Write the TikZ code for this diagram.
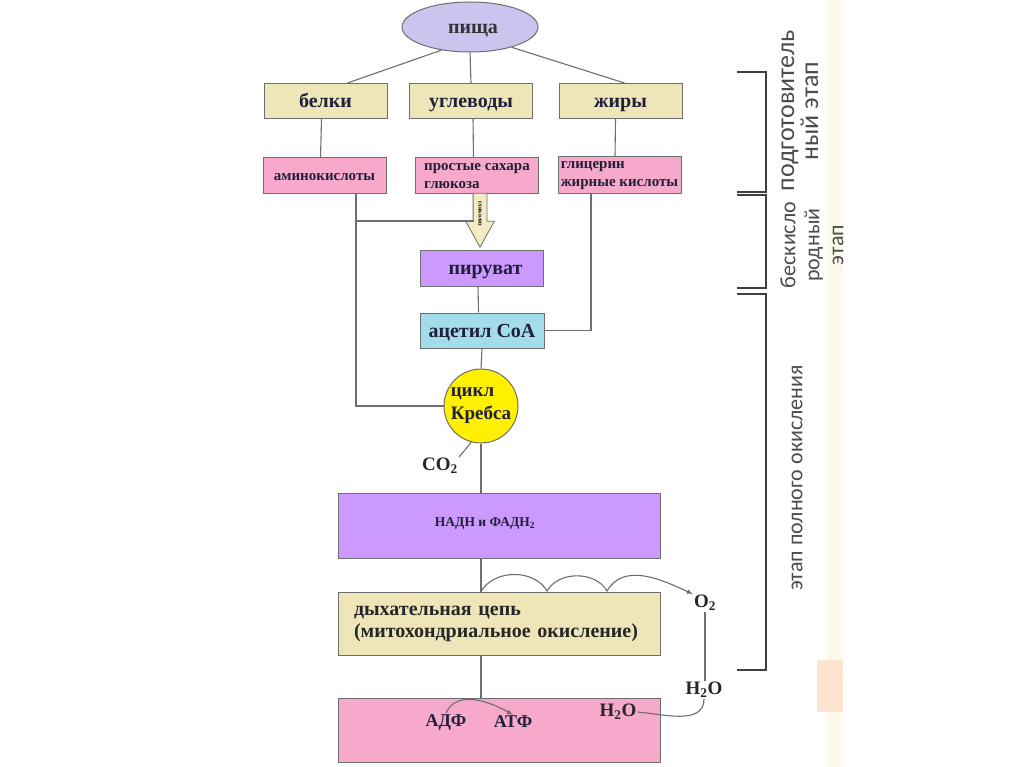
\documentclass[tikz,border=0pt]{standalone}
\usepackage{fontspec}
\setmainfont{Liberation Serif}
\newfontfamily\stagefont{Carlito}
\usetikzlibrary{arrows,shapes.geometric,shapes.arrows}

\definecolor{foodfill}{HTML}{CAC4EE}
\definecolor{sandfill}{HTML}{EEE6B8}
\definecolor{pinkfill}{HTML}{F6A9CB}
\definecolor{violetfill}{HTML}{CC99FF}
\definecolor{bluefill}{HTML}{A3DCEA}
\definecolor{krebsfill}{HTML}{FFF000}
\definecolor{arrowfill}{HTML}{F1ECC3}
\definecolor{edgegray}{HTML}{6E6E6E}
\definecolor{inkblue}{HTML}{20203A}
\definecolor{cream}{HTML}{FDFAEC}
\definecolor{peach}{HTML}{FBE3CF}

\begin{document}
\begin{tikzpicture}[x=1pt,y=-1pt,
	box/.style={rectangle, draw=edgegray, line width=1pt, inner sep=0pt, text=inkblue, font=\bfseries\fontsize{20}{22}\selectfont},
	small/.style={box, font=\bfseries\fontsize{15}{18}\selectfont},
	mid/.style={text height=15pt, text depth=2pt},
	smallmid/.style={text height=10.5pt, text depth=1.5pt},
	chem/.style={inner sep=1pt, text=black!85, font=\bfseries\fontsize{19}{21}\selectfont},
	link/.style={draw=edgegray, line width=1.1pt},
	bracket/.style={draw=black!75, line width=1.2pt},
	stage/.style={rotate=90, align=center, inner sep=0pt, text=black!70, font=\stagefont\fontsize{22}{24}\selectfont}]
	\useasboundingbox (0,0) rectangle (1024,767);
	\fill [white] (0,0) rectangle (1024,767);
	\fill [cream] (826,0) rectangle (843,767);
	\fill [peach] (817,660) rectangle (843,712);

	% food and its parts
	\node (0) [ellipse, mid, draw=edgegray, line width=1pt, fill=foodfill, minimum width=136pt, minimum height=50pt, inner sep=0pt, text=black!80, font=\bfseries\fontsize{20}{22}\selectfont] at (470,27) {\hspace{6pt}пища};
	\node (1) [box, mid, fill=sandfill, minimum width=123pt, minimum height=35pt] at (325.5,101) {белки};
	\node (2) [box, mid, fill=sandfill, minimum width=123pt, minimum height=35pt] at (471,101) {углеводы};
	\node (3) [box, mid, fill=sandfill, minimum width=123pt, minimum height=35pt] at (620.5,101) {жиры};
	\node (4) [small, smallmid, fill=pinkfill, minimum width=123pt, minimum height=36pt] at (324.5,176) {аминокислоты};
	\node (5) [small, fill=pinkfill, align=left, minimum width=123pt, minimum height=36pt] at (477,176) {простые сахара\\глюкоза};
	\node (6) [small, fill=pinkfill, align=left, minimum width=123pt, minimum height=37pt] at (619.5,175.5) {глицерин\\жирные кислоты};
	\node (7) [single arrow, draw=edgegray, line width=0.8pt, fill=arrowfill, rotate=-90, anchor=tip, minimum height=54pt, single arrow head extend=7.5pt, single arrow tip angle=58, text height=3pt, text depth=0pt, inner xsep=2pt, inner ysep=5pt, text=black, font=\bfseries\fontsize{6}{6}\selectfont] at (480,248) {гликолиз};

	% main chain
	\node (8) [box, mid, fill=violetfill, minimum width=123pt, minimum height=36pt] at (481.5,268) {\hspace{8pt}пируват};
	\node (9) [box, mid, fill=bluefill, minimum width=124pt, minimum height=35pt] at (482,330.5) {ацетил CoA};
	\node (10) [circle, draw=edgegray, line width=1pt, fill=krebsfill, minimum size=74pt, inner sep=0pt, align=left, text=inkblue, font=\bfseries\fontsize{19}{23}\selectfont] at (481,406) {цикл\\Кребса};
	\node (11) [chem] at (440,466) {CO\textsubscript{2}};
	\node (12) [box, fill=violetfill, minimum width=322pt, minimum height=65pt] at (499,525.5) {};
	\node (13) [inner sep=0pt, text=inkblue, font=\bfseries\fontsize{13.5}{16}\selectfont] at (485,523) {НАДН и ФАДН\textsubscript{2}};
	\node (14) [box, fill=sandfill, align=left, text width=290pt, inner xsep=16pt, minimum height=63pt, text=black!85] at (499,623.5) {дыхательная цепь\\(митохондриальное окисление)};
	\node (15) [box, fill=pinkfill, minimum width=322pt, minimum height=64pt] at (499,730) {};
	\node (16) [chem, text=inkblue, font=\bfseries\fontsize{18}{20}\selectfont] at (446,722) {АДФ};
	\node (17) [chem, text=inkblue, font=\bfseries\fontsize{18}{20}\selectfont] at (513,722) {АТФ};
	\node (18) [chem] at (705,603) {O\textsubscript{2}};
	\node (19) [chem] at (704,690) {H\textsubscript{2}O};
	\node (20) [chem] at (618,712) {H\textsubscript{2}O};
	\coordinate (g) at (474,221);
	\coordinate (w1) at (547,591);
	\coordinate (w2) at (607,591);

	\draw [link] (0.219)--([xshift=22pt]1.north);
	\draw [link] (0.south)--(2.north);
	\draw [link] (0.334)--([xshift=4pt]3.north);
	\draw [link] ([xshift=-4pt]1.south)--([xshift=-4pt]4.north);
	\draw [link] ([xshift=2pt]2.south)--([xshift=-3.5pt]5.north);
	\draw [link] ([xshift=-5pt]3.south)--([xshift=-4.5pt]6.north);
	\draw [link] ([xshift=31.5pt]4.south) |- (10.west);
	\draw [link] (g) -| ([xshift=31.5pt]4.south);
	\draw [link] ([xshift=-28.5pt]6.south) |- (9.east);
	\draw [link] ([xshift=-3.5pt]8.south)--([xshift=-3.5pt]9.north);
	\draw [link] (9.south)--(10.north);
	\draw [link] (10.255)--(11.north east);
	\draw [link] (10.south)--(10.south |- 12.north);
	\draw [link] (12.south -| 10.south)--(14.north -| 10.south);
	\draw [link] (14.south -| 10.south)--(15.north -| 10.south);
	\draw [link,->,>=latex] (14.north -| 10.south) to[out=60,in=120] (w1) to[out=60,in=120] (w2) to[out=60,in=155] (18.north west);
	\draw [link,->,>=latex] (16.north) to[out=65,in=150] (17.north);
	\draw [link] (18.south)--(18.south |- 19.north);
	\draw [link] (20.east) to[out=-5,in=-90] (19.south);

	% stages
	\draw [bracket] (737,72)--(766,72)--(766,192)--(737,192);
	\draw [bracket] (737,195)--(766,195)--(766,288)--(737,288);
	\draw [bracket] (737,294)--(766,294)--(766,670)--(737,670);
	\node (21) [stage, font=\stagefont\fontsize{26}{24}\selectfont] at (800,111) {подготовитель\\ный этап};
	\node (22) [stage] at (812,245) {бескисло\\родный\\этап};
	\node (23) [stage] at (797,478) {этап полного окисления};
\end{tikzpicture}
\end{document}
